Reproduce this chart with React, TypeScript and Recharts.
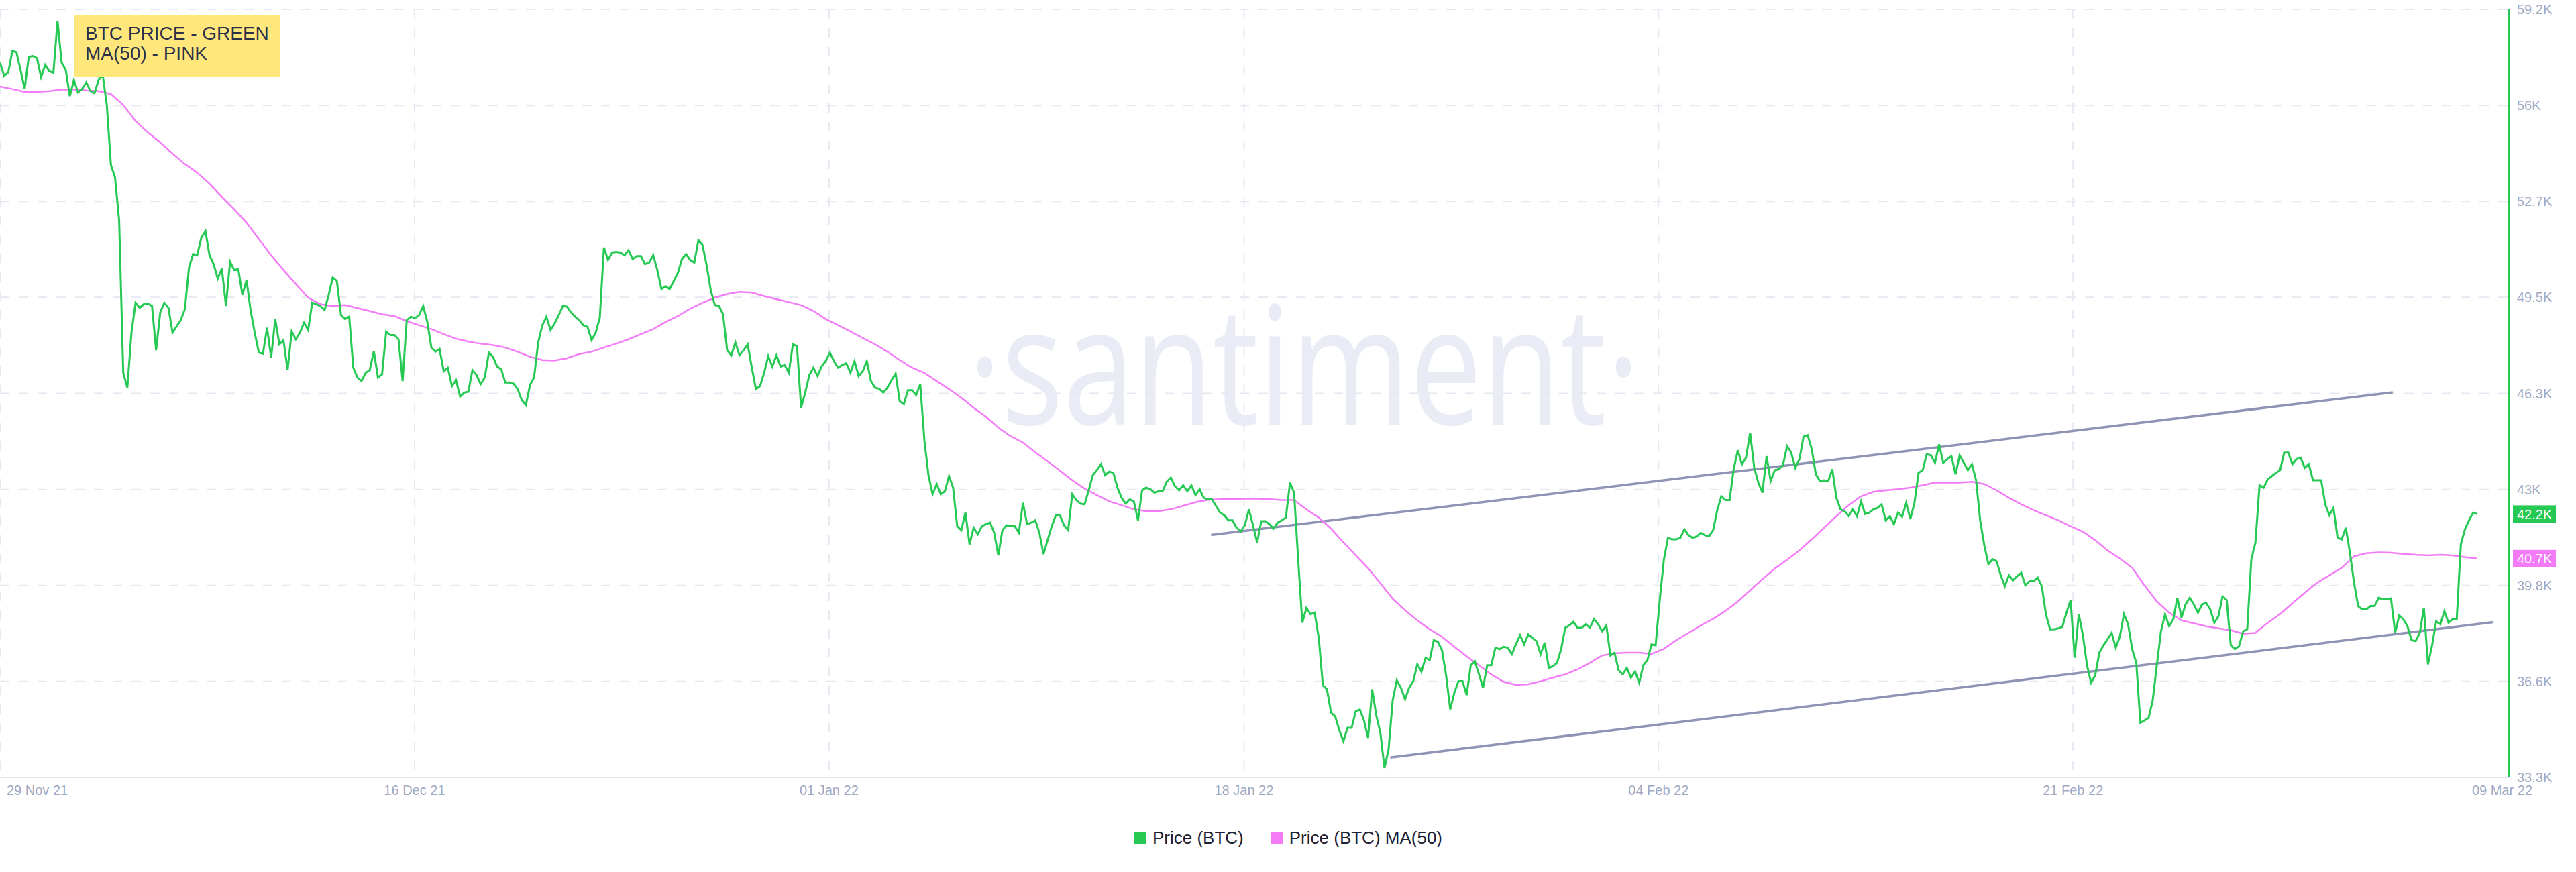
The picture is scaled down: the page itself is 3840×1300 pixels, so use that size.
import { LineChart, Line, XAxis, YAxis, CartesianGrid, Legend, ReferenceLine } from 'recharts'

// x positions are sample indices (~4h steps from 29 Nov 21)
const xTickPos = [0, 100.9, 201.8, 302.8, 403.7, 504.6, 610.7]
const xTickLabels = ['29 Nov 21', '16 Dec 21', '01 Jan 22', '18 Jan 22', '04 Feb 22', '21 Feb 22', '09 Mar 22']

const yTickPos = [33.33, 36.564, 39.798, 43.031, 46.265, 49.499, 52.733, 55.966, 59.2]
const yTickLabels = ['33.3K', '36.6K', '39.8K', '43K', '46.3K', '49.5K', '52.7K', '56K', '59.2K']

// BTC price, thousands USD
const price = [
  57.41, 56.96, 57.07, 57.80, 57.76, 57.16, 56.52, 57.60, 57.63, 57.56,
  56.91, 57.33, 57.12, 57.06, 58.81, 57.41, 57.16, 56.28, 56.82, 56.40,
  56.52, 56.74, 56.45, 56.38, 56.82, 56.99, 55.98, 53.96, 53.54, 52.10,
  46.96, 46.46, 48.31, 49.32, 49.15, 49.27, 49.29, 49.21, 47.72, 48.99,
  49.32, 49.15, 48.31, 48.53, 48.73, 49.10, 50.50, 50.96, 50.92, 51.51,
  51.73, 50.92, 50.62, 50.13, 50.47, 49.21, 50.70, 50.42, 50.45, 49.58,
  50.08, 49.07, 48.31, 47.64, 47.60, 48.48, 47.47, 48.77, 47.92, 48.06,
  47.05, 48.35, 48.09, 48.31, 48.65, 48.40, 49.32, 49.27, 49.21, 49.07,
  49.58, 50.17, 50.05, 48.90, 48.77, 48.85, 47.13, 46.80, 46.68, 46.96,
  47.05, 47.69, 46.80, 46.91, 48.35, 48.23, 48.23, 48.09, 46.68, 48.73,
  48.85, 48.80, 48.90, 49.21, 48.68, 47.81, 47.67, 47.76, 47.01, 47.13,
  46.51, 46.71, 46.16, 46.29, 46.32, 47.05, 46.88, 46.58, 46.80, 47.64,
  47.50, 47.17, 47.08, 46.63, 46.63, 46.59, 46.41, 46.04, 45.87, 46.54,
  46.80, 47.98, 48.56, 48.85, 48.40, 48.62, 48.90, 49.21, 49.19, 48.99,
  48.85, 48.73, 48.56, 48.51, 48.06, 48.31, 48.82, 51.18, 50.76, 51.01,
  51.03, 51.01, 50.92, 51.09, 50.79, 50.89, 50.89,
  50.62, 50.67, 50.92, 50.42, 49.78, 49.88, 49.78, 50.05, 50.33, 50.79,
  50.96, 50.76, 50.67, 51.43, 51.26, 50.59, 49.74, 49.24, 49.21, 48.93,
  47.72, 47.55, 47.98, 47.55, 47.72, 47.92, 47.13, 46.41, 46.51, 46.96,
  47.52, 47.17, 47.55, 47.17, 47.22, 46.96, 47.92, 47.86, 45.78, 46.29,
  46.88, 47.13, 46.85, 47.18, 47.35, 47.64, 47.35, 47.13, 47.22, 47.28,
  46.96, 47.35, 46.85, 47.01, 47.35, 46.68, 46.46, 46.42, 46.29, 46.46,
  46.71, 46.93, 46.00, 45.90, 46.37, 46.37, 46.21, 46.58, 44.69, 43.51,
  42.87, 43.21, 42.87, 42.97, 43.48, 43.09, 41.79, 41.66, 42.25, 41.18,
  41.74, 41.52, 41.79, 41.86, 41.91, 41.57, 40.81, 41.66, 41.82, 41.79,
  41.79, 41.57, 42.58, 41.86, 41.91, 41.99, 41.57, 40.85, 41.32, 41.79,
  42.16, 42.16, 41.82, 41.66, 42.87, 42.67, 42.55, 42.53, 43.00, 43.51,
  43.68, 43.88, 43.51, 43.63, 43.59, 43.09, 42.75, 42.55, 42.70, 42.62,
  41.99, 43.00, 43.09, 43.04, 42.92, 42.97, 42.97, 43.29, 43.43, 43.14,
  43.00, 43.17, 42.97, 43.17, 42.84, 43.04, 42.75, 42.70, 42.70, 42.47,
  42.25, 42.16, 41.99, 41.99, 41.74, 41.62, 41.82, 42.36, 41.82, 41.24,
  41.96, 41.96, 41.86, 41.71, 41.91, 41.99, 42.08,
  43.26, 42.92, 40.65, 38.54, 39.04, 38.83, 38.88, 38.03, 36.43, 36.30,
  35.51, 35.39, 34.92, 34.55, 35.00, 35.00, 35.56, 35.62, 35.25, 34.66,
  36.30, 35.42, 34.83, 33.65, 34.28, 35.93, 36.60, 36.35, 35.96, 36.35,
  36.57, 37.14, 36.89, 37.36, 37.28, 37.95, 37.90, 37.61, 36.77, 35.62,
  36.18, 36.57, 36.57, 36.10, 37.11, 37.24, 36.80, 36.35, 37.11, 37.11,
  37.70, 37.65, 37.73, 37.70, 37.48, 37.81, 38.12, 37.81, 38.15, 38.03,
  37.92, 37.48, 37.87, 37.02, 37.07, 37.19, 37.65, 38.37, 38.45, 38.57,
  38.37, 38.37, 38.49, 38.37, 38.66, 38.49, 38.25, 38.45, 37.44, 37.53,
  36.94, 36.80, 37.02, 36.69, 36.90, 36.52, 37.11, 37.28, 37.81, 37.78,
  39.30, 40.65, 41.40, 41.35, 41.35, 41.40, 41.69, 41.49, 41.40, 41.45,
  41.57, 41.49, 41.45, 41.66, 42.33, 42.80, 42.67, 42.67, 43.71, 44.35,
  43.88, 44.10, 44.94, 43.76, 43.26, 42.92, 44.15, 43.31, 43.68, 43.71,
  43.85, 44.49, 44.27, 43.76, 44.05, 44.81, 44.86, 44.39, 43.54, 43.31,
  43.34, 43.31, 43.71, 42.75, 42.36, 42.30, 42.13, 42.36, 42.13, 42.63,
  42.20, 42.25, 42.36, 42.41, 42.53, 41.99, 42.13, 41.86, 42.25, 42.11,
  42.58, 42.03, 42.58, 43.59, 43.68, 44.22, 44.18,
  43.93, 44.55, 43.93, 44.05, 44.15, 43.54, 44.18, 43.93, 43.68, 43.88,
  43.34, 41.99, 41.15, 40.51, 40.68, 40.61, 40.14, 39.77, 40.14, 39.97,
  40.11, 40.22, 39.80, 39.94, 39.94, 40.06, 39.77, 38.83, 38.32, 38.32,
  38.35, 38.40, 38.88, 39.30, 37.36, 38.83, 38.12, 37.11, 36.52, 36.77,
  37.53, 37.78, 37.98, 38.20, 37.70, 38.08, 38.83, 38.49, 37.65, 37.19,
  35.17, 35.25, 35.34, 35.93, 37.11, 38.25, 38.83, 38.42, 38.66, 39.38,
  38.71, 39.16, 39.38, 39.16, 38.88, 39.16, 39.21, 38.99, 38.54, 38.76,
  39.43, 39.30, 37.78, 37.65, 37.75, 38.25, 38.32, 40.68, 41.24, 43.17,
  43.09, 43.37, 43.48, 43.59, 43.68, 44.27, 44.27, 43.88, 44.05, 44.10,
  43.76, 43.88, 43.34, 43.34, 43.34, 42.53, 42.16, 42.41, 41.40, 41.35,
  41.74, 40.90, 39.89, 39.10, 38.99, 38.99, 39.10, 39.10, 39.38, 39.33,
  39.33, 39.36, 38.20, 38.79, 38.66, 38.42, 37.95, 37.92, 38.20, 39.04,
  37.14, 37.78, 38.59, 38.49, 38.93, 38.54, 38.66, 38.66, 41.18, 41.69,
  41.99, 42.25, 42.20,
]

// MA(50), one value every 3rd sample
const priceMa = [
  56.60, 56.52, 56.42, 56.42, 56.45, 56.50, 56.50, 56.47, 56.45, 56.35,
  55.98, 55.44, 55.05, 54.72, 54.34, 53.99, 53.70, 53.33, 52.89, 52.47,
  52.02, 51.46, 50.92, 50.42, 49.95, 49.49, 49.27, 49.21, 49.24, 49.14,
  49.04, 48.93, 48.87, 48.70, 48.56, 48.43, 48.26, 48.11, 48.01, 47.94,
  47.89, 47.81, 47.67, 47.50, 47.39, 47.37, 47.45, 47.59, 47.67, 47.81,
  47.94, 48.09, 48.26,
  48.43, 48.67, 48.87, 49.12, 49.32, 49.49, 49.61, 49.68, 49.66, 49.54,
  49.44, 49.34, 49.24, 49.04, 48.77, 48.56, 48.35, 48.13, 47.92, 47.67,
  47.39, 47.13, 46.96, 46.68, 46.41, 46.12, 45.78, 45.48, 45.11, 44.82,
  44.61, 44.28, 43.98, 43.66, 43.34, 43.06, 42.84, 42.63, 42.50, 42.36,
  42.30, 42.30, 42.36, 42.48, 42.60, 42.68, 42.70, 42.70, 42.72, 42.72,
  42.70, 42.67,
  42.67, 42.36, 42.08, 41.71, 41.25, 40.81, 40.38, 39.87, 39.35, 38.96,
  38.62, 38.32, 38.07, 37.73, 37.41, 37.11, 36.80, 36.55, 36.45, 36.47,
  36.57, 36.69, 36.80, 36.97, 37.19, 37.44, 37.51, 37.53, 37.53, 37.49,
  37.66, 37.95, 38.20, 38.45, 38.67, 38.94, 39.25, 39.63, 40.01, 40.36,
  40.66, 40.98, 41.35, 41.74, 42.13, 42.50, 42.80, 42.95, 43.00, 43.04,
  43.09, 43.17,
  43.26, 43.26, 43.26, 43.29, 43.21, 43.00, 42.75, 42.53, 42.33, 42.16,
  41.99, 41.79, 41.61, 41.32, 40.98, 40.70, 40.39, 39.80, 39.26, 38.88,
  38.62, 38.52, 38.42, 38.35, 38.29, 38.17, 38.20, 38.54, 38.83, 39.20,
  39.55, 39.89, 40.14, 40.39, 40.78, 40.88, 40.91, 40.90, 40.86, 40.83,
  40.81, 40.83, 40.81, 40.75, 40.70,
]

// drawn channel lines (index, thousands USD)
const upperTrend = [{ x: 294.8, y: 41.5 }, { x: 582.4, y: 46.3 }]
const lowerTrend = [{ x: 338.4, y: 34.0 }, { x: 606.9, y: 38.56 }]

const GREEN = '#26c953'
const PINK = '#f47bf7'
const FONT = '"Liberation Sans", Arial, sans-serif'

const rows = price.map((p, i) => ({
  i,
  price: p,
  ma: i % 3 === 0 ? priceMa[i / 3] : null,
}))

const lastPrice = price[price.length - 1]
const lastMa = priceMa[priceMa.length - 1]

const XTick = (props: any) => {
  const { x, y, index } = props
  const first = index === 0
  const last = index === xTickLabels.length - 1
  return (
    <text
      x={first ? x + 10 : last ? x - 10 : x}
      y={y}
      dy="0.71em"
      textAnchor={first ? 'start' : 'middle'}
      fill="#9fa9c3"
      fontSize={20}
      fontFamily={FONT}
    >
      {xTickLabels[index]}
    </text>
  )
}

const badge = (color: string, value: number) => (props: any) => {
  const vb = props.viewBox || {}
  const x = (vb.x || 0) + (vb.width || 0)
  const y = vb.y || 0
  return (
    <g>
      <rect x={x + 6} y={y - 13} width={64} height={26} fill={color} />
      <text x={x + 12} y={y} dy="0.36em" fill="#fff" fontSize={20} fontFamily={FONT}>
        {`${value.toFixed(1)}K`}
      </text>
    </g>
  )
}

const renderLegend = (props: any) => (
  <div
    style={{
      display: 'flex',
      justifyContent: 'center',
      alignItems: 'center',
      height: 60,
      gap: 40,
      fontFamily: FONT,
      fontSize: 26,
      color: '#1c2033',
    }}
  >
    {(props.payload || []).map((entry: any) => (
      <div key={entry.value} style={{ display: 'flex', alignItems: 'center', gap: 10 }}>
        <span style={{ display: 'inline-block', width: 18, height: 18, background: entry.color }} />
        <span>{entry.value}</span>
      </div>
    ))}
  </div>
)

export default function App() {
  return (
    <div style={{ position: 'absolute', left: 0, top: 0, width: 3840, height: 1300, background: '#fff' }}>
      <svg width={3840} height={1300} style={{ position: 'absolute', left: 0, top: 0 }}>
        <text
          x={1443}
          y={633}
          textLength={1002}
          lengthAdjust="spacingAndGlyphs"
          fontFamily='"Open Sans", sans-serif'
          fontSize={245}
          fill="#e9ecf4"
        >
          ·santiment·
        </text>
      </svg>

      <LineChart width={3840} height={1300} data={rows} margin={{ top: 14, right: 0, left: 0, bottom: 21 }}>
        <CartesianGrid stroke="#e6e8f1" strokeWidth={2} strokeDasharray="14 14" />
        <XAxis
          dataKey="i"
          type="number"
          domain={[0, 610.7]}
          ticks={xTickPos}
          interval={0}
          height={60}
          tickSize={0}
          tickMargin={12}
          tick={<XTick />}
          axisLine={{ stroke: '#e3e6ef', strokeWidth: 2 }}
        />
        <YAxis
          orientation="right"
          type="number"
          domain={[33.33, 59.2]}
          ticks={yTickPos}
          interval={0}
          width={100}
          tickSize={0}
          tickMargin={12}
          tickLine={false}
          tickFormatter={(v: number, i: number) => yTickLabels[i]}
          tick={{ fill: '#9fa9c3', fontSize: 20, fontFamily: FONT }}
          axisLine={{ stroke: GREEN, strokeWidth: 2 }}
        />
        <ReferenceLine segment={upperTrend} stroke="#8f93b6" strokeWidth={3.5} ifOverflow="visible" />
        <ReferenceLine segment={lowerTrend} stroke="#8f93b6" strokeWidth={3.5} ifOverflow="visible" />
        <Line
          type="linear"
          dataKey="ma"
          name="Price (BTC) MA(50)"
          stroke={PINK}
          strokeWidth={2.5}
          dot={false}
          connectNulls
          isAnimationActive={false}
        />
        <Line
          type="linear"
          dataKey="price"
          name="Price (BTC)"
          stroke={GREEN}
          strokeWidth={3}
          dot={false}
          isAnimationActive={false}
        />
        <ReferenceLine y={lastPrice} stroke="none" ifOverflow="visible" label={badge(GREEN, lastPrice)} />
        <ReferenceLine y={lastMa} stroke="none" ifOverflow="visible" label={badge(PINK, lastMa)} />
        <Legend
          verticalAlign="bottom"
          height={60}
          wrapperStyle={{ height: 60 }}
          content={renderLegend}
          payload={[
            { value: 'Price (BTC)', type: 'square', color: GREEN },
            { value: 'Price (BTC) MA(50)', type: 'square', color: PINK },
          ]}
        />
      </LineChart>

      <div
        style={{
          position: 'absolute',
          left: 111,
          top: 23,
          width: 306,
          height: 92,
          boxSizing: 'border-box',
          padding: '12px 0 0 16px',
          background: '#ffe77c',
          color: '#2b3148',
          fontFamily: FONT,
          fontSize: 28,
          lineHeight: '30px',
        }}
      >
        BTC PRICE - GREEN
        <br />
        MA(50) - PINK
      </div>
    </div>
  )
}
